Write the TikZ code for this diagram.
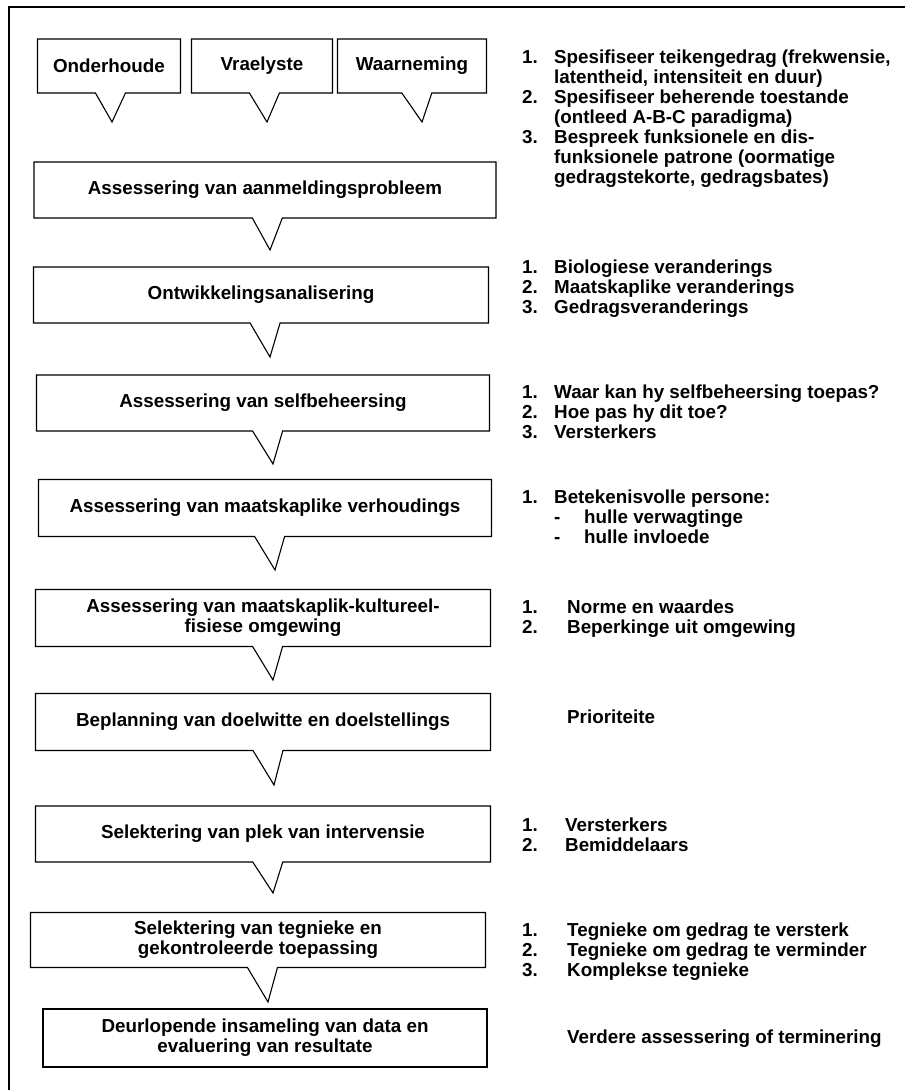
\documentclass[tikz,border=0pt]{standalone}
\usepackage{fontspec}
\setmainfont{Liberation Sans}
\usetikzlibrary{shapes.callouts}
\newcommand{\stepfont}{\fontsize{18.8}{20}\selectfont\bfseries}
\tikzset{
  stepbox/.style={rectangle callout, draw, line width=1.1pt, fill=white,
    minimum width=455pt, minimum height=56pt, inner sep=0pt, align=center,
    callout pointer width=30pt, font=\stepfont},
  srcbox/.style={stepbox, minimum width=143pt, minimum height=54pt},
  lastbox/.style={rectangle, draw, line width=1.1pt, minimum width=444pt,
    minimum height=58pt, inner sep=0pt, align=center, font=\stepfont},
  notes/.style={anchor=base west, inner sep=0pt, font=\stepfont}
}
\begin{document}
\begin{tikzpicture}[x=1pt,y=-1pt]
\useasboundingbox (0,0) rectangle (905,1090);
\coordinate (FrameTR) at (905,7);
\coordinate (FrameTL) at (9,7);
\coordinate (FrameBL) at (9,1090);

\draw[line width=1.1pt] (FrameTR) -- (FrameTL) -- (FrameBL);% Frame

% Sources
\node[srcbox, callout absolute pointer={(112,122)}] (onder) at (109,66) {Onderhoude};
\node[srcbox, minimum width=141pt, callout absolute pointer={(267,122)}] (vrae) at (262,66) {Vraelyste};
\node[srcbox, minimum width=149pt, callout absolute pointer={(422,122)}] (waar) at (412,66) {Waarneming};

% Steps
\node[stepbox, minimum width=462pt, callout absolute pointer={(270,250)}] (aanmeld) at (265,190) {Assessering van aanmeldingsprobleem};
\node[stepbox, callout absolute pointer={(270,357)}] (ontwik) at (261,295) {Ontwikkelingsanalisering};
\node[stepbox, minimum width=453pt, callout absolute pointer={(273,464)}] (selfbeh) at (263,403) {Assessering van selfbeheersing};
\node[stepbox, minimum width=453pt, minimum height=57pt, callout absolute pointer={(275,570)}] (verhoud) at (265,508) {Assessering van maatskaplike verhoudings};
\node[stepbox, minimum height=57pt, callout absolute pointer={(273,680)}] (omgew) at (263,618) {Assessering van maatskaplik-kultureel-\\fisiese omgewing};
\node[stepbox, minimum height=57pt, callout absolute pointer={(274,785)}] (doel) at (263,722) {Beplanning van doelwitte en doelstellings};
\node[stepbox, callout absolute pointer={(273,893)}] (plek) at (263,834) {Selektering van plek van intervensie};
\node[stepbox, minimum height=55pt, callout absolute pointer={(268,1002)}] (tegniek) at (258,940) {Selektering van tegnieke en\\gekontroleerde toepassing};
\node[lastbox] (data) at (265,1038) {Deurlopende insameling van data en\\evaluering van resultate};

% Notes
\node[notes] (n-aanmeld) at (522,63) {\begin{tabular}[t]{@{}p{32pt}@{}l@{}}
1. & Spesifiseer teikengedrag (frekwensie,\\
   & latentheid, intensiteit en duur)\\
2. & Spesifiseer beherende toestande\\
   & (ontleed A-B-C paradigma)\\
3. & Bespreek funksionele en dis-\\
   & funksionele patrone (oormatige\\
   & gedragstekorte, gedragsbates)
\end{tabular}};
\node[notes] (n-ontwik) at (522,273) {\begin{tabular}[t]{@{}p{32pt}@{}l@{}}
1. & Biologiese veranderings\\
2. & Maatskaplike veranderings\\
3. & Gedragsveranderings
\end{tabular}};
\node[notes] (n-selfbeh) at (522,398) {\begin{tabular}[t]{@{}p{32pt}@{}l@{}}
1. & Waar kan hy selfbeheersing toepas?\\
2. & Hoe pas hy dit toe?\\
3. & Versterkers
\end{tabular}};
\node[notes] (n-verhoud) at (522,503) {\begin{tabular}[t]{@{}p{32pt}@{}l@{}}
1. & Betekenisvolle persone:\\
   & \makebox[30pt][l]{-}hulle verwagtinge\\
   & \makebox[30pt][l]{-}hulle invloede
\end{tabular}};
\node[notes] (n-omgew) at (522,613) {\begin{tabular}[t]{@{}p{45pt}@{}l@{}}
1. & Norme en waardes\\
2. & Beperkinge uit omgewing
\end{tabular}};
\node[notes] (n-doel) at (567,723) {Prioriteite};
\node[notes] (n-plek) at (522,831) {\begin{tabular}[t]{@{}p{43pt}@{}l@{}}
1. & Versterkers\\
2. & Bemiddelaars
\end{tabular}};
\node[notes] (n-tegniek) at (522,936) {\begin{tabular}[t]{@{}p{45pt}@{}l@{}}
1. & Tegnieke om gedrag te versterk\\
2. & Tegnieke om gedrag te verminder\\
3. & Komplekse tegnieke
\end{tabular}};
\node[notes] (n-data) at (567,1043) {Verdere assessering of terminering};
\end{tikzpicture}
\end{document}
